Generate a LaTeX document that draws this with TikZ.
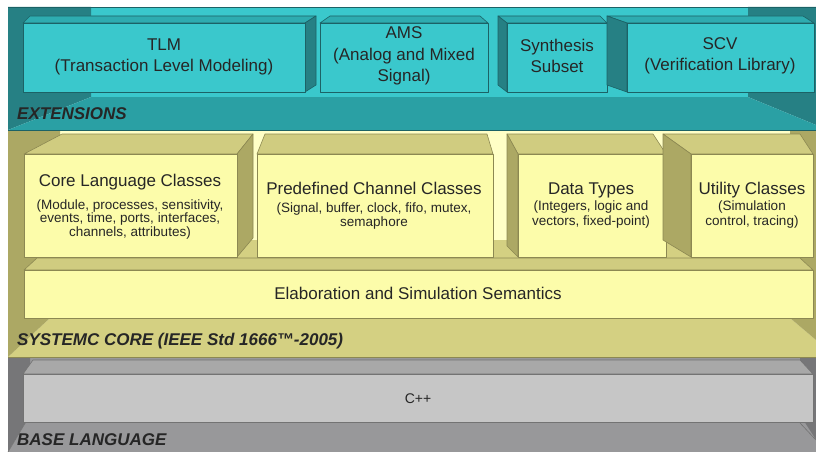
\documentclass[tikz,border=0pt]{standalone}
\usepackage{fontspec}
\setmainfont{Liberation Sans}
\usetikzlibrary{positioning}

\definecolor{tealF}{RGB}{58,200,204}
\definecolor{tealT}{RGB}{46,172,176}
\definecolor{tealS}{RGB}{38,128,132}
\definecolor{tealFl}{RGB}{42,160,164}
\definecolor{tealL}{RGB}{28,98,102}
\definecolor{yelF}{RGB}{252,252,170}
\definecolor{yelB}{RGB}{255,255,198}
\definecolor{yelT}{RGB}{208,204,128}
\definecolor{yelS}{RGB}{172,168,100}
\definecolor{yelFl}{RGB}{212,208,130}
\definecolor{yelL}{RGB}{140,136,82}
\definecolor{grayF}{RGB}{198,198,198}
\definecolor{grayT}{RGB}{168,168,168}
\definecolor{grayB}{RGB}{152,152,154}
\definecolor{grayS}{RGB}{118,118,120}
\definecolor{grayL}{RGB}{115,115,115}

\begin{document}
\begin{tikzpicture}[x=1pt, y=-1pt, line join=round,
  face/.style 2 args={fill=#1, draw=#2, line width=0.6pt},
  txt/.style={text=black!85, inner sep=0pt},
  title/.style={txt, font=\fontsize{17}{21}\selectfont, align=center},
  sub/.style={txt, font=\fontsize{13.5}{14.5}\selectfont, align=center},
  layer/.style={txt, font=\fontsize{17}{20}\selectfont\bfseries\itshape, anchor=base west}]
\useasboundingbox (0,0) rectangle (816,452);
\fill[white] (0,0) rectangle (816,452);

% Base language tray
\fill[grayB] (30,357) rectangle (800,415);
\fill[grayS] (8,357) -- (30,357) -- (30,415) -- (8,452) -- cycle;
\fill[grayS] (800,357) -- (816,357) -- (816,440) -- (800,423) -- cycle;
\fill[grayB] (8,452) -- (30,415) -- (800,415) -- (816,440) -- (816,452) -- cycle;
\draw[grayL, line width=0.6pt] (8,452) -- (30,415) (800,423) -- (816,440);

% C++ block
\filldraw[face={grayT}{grayL}] (23,374) -- (33,360) -- (800,360) -- (813,374) -- cycle;
\filldraw[face={grayF}{grayL}] (23,374) rectangle (813,422);

% SystemC core tray
\fill[yelB] (60,130) rectangle (790,240);
\fill[yelFl] (8,357) -- (50,318) -- (60,240) -- (790,240) -- (790,318) -- (816,340) -- (816,357) -- cycle;
\fill[yelS] (8,130) -- (60,130) -- (60,240) -- (50,318) -- (8,357) -- cycle;
\fill[yelS] (790,130) -- (816,130) -- (816,340) -- (790,318) -- cycle;
\draw[yelL, line width=0.6pt] (8,357) -- (816,357);

% Core boxes
\filldraw[face={yelT}{yelL}] (24,154) -- (62,134) -- (253,134) -- (237,154) -- cycle;
\filldraw[face={yelS}{yelL}] (237,154) -- (253,134) -- (253,238) -- (237,257) -- cycle;
\filldraw[face={yelF}{yelL}] (24,154) rectangle (237,257);

\filldraw[face={yelT}{yelL}] (257,154) -- (265,134) -- (487,134) -- (493,154) -- cycle;
\filldraw[face={yelF}{yelL}] (257,154) rectangle (493,257);

\filldraw[face={yelT}{yelL}] (518,154) -- (507,134) -- (653,134) -- (666,154) -- cycle;
\filldraw[face={yelS}{yelL}] (518,154) -- (507,134) -- (507,246) -- (518,257) -- cycle;
\filldraw[face={yelF}{yelL}] (518,154) rectangle (666,257);

\filldraw[face={yelT}{yelL}] (691,154) -- (663,134) -- (800,134) -- (813,154) -- cycle;
\filldraw[face={yelS}{yelL}] (691,154) -- (663,134) -- (663,240) -- (691,257) -- cycle;
\filldraw[face={yelF}{yelL}] (691,154) rectangle (813,257);

\filldraw[face={yelT}{yelL}] (24,270) -- (37,258) -- (800,258) -- (813,270) -- cycle;
\filldraw[face={yelF}{yelL}] (24,270) rectangle (813,318);

% Extensions tray
\fill[tealF] (91,7) rectangle (748,97);
\fill[tealS] (8,7) -- (91,7) -- (91,97) -- (8,130) -- cycle;
\fill[tealS] (748,7) -- (816,7) -- (816,125) -- (748,97) -- cycle;
\fill[tealFl] (8,130) -- (91,97) -- (748,97) -- (816,125) -- (816,130) -- cycle;
\draw[tealL, line width=0.6pt] (8,7) -- (816,7) (8,130) -- (816,130);

% Extension boxes
\filldraw[face={tealT}{tealL}] (23,23) -- (30,16) -- (316,16) -- (305,23) -- cycle;
\filldraw[face={tealS}{tealL}] (305,23) -- (316,16) -- (316,85) -- (305,92) -- cycle;
\filldraw[face={tealF}{tealL}] (23,23) rectangle (305,92);

\filldraw[face={tealT}{tealL}] (320,23) -- (330,16) -- (480,16) -- (488,23) -- cycle;
\filldraw[face={tealF}{tealL}] (320,23) rectangle (488,92);

\filldraw[face={tealT}{tealL}] (507,23) -- (498,16) -- (600,16) -- (607,23) -- cycle;
\filldraw[face={tealS}{tealL}] (507,23) -- (498,16) -- (498,85) -- (507,92) -- cycle;
\filldraw[face={tealF}{tealL}] (507,23) rectangle (607,92);

\filldraw[face={tealT}{tealL}] (627,23) -- (607,16) -- (803,16) -- (814,23) -- cycle;
\filldraw[face={tealS}{tealL}] (627,23) -- (607,16) -- (607,85) -- (627,92) -- cycle;
\filldraw[face={tealF}{tealL}] (627,23) rectangle (814,92);

% Labels
\node[title] (tlm) at (164,57) {TLM\\(Transaction Level Modeling)};
\node[title, font=\fontsize{17}{21.5}\selectfont] (ams) at (404,56) {AMS\\(Analog and Mixed\\Signal)};
\node[title] (synth) at (557,56) {Synthesis\\Subset};
\node[title] (scv) at (720,56) {SCV\\(Verification Library)};
\node[layer] (extlabel) at (17,119) {EXTENSIONS};

\node[title, anchor=base] (core) at (130,186) {Core Language Classes};
\node[sub, font=\fontsize{13.5}{13.5}\selectfont] (coresub) at (130,219.5)
  {(Module, processes, sensitivity,\\events, time, ports, interfaces,\\channels, attributes)};
\node[title, anchor=base] (chan) at (374,194) {Predefined Channel Classes};
\node[sub] (chansub) at (374,216) {(Signal, buffer, clock, fifo, mutex,\\semaphore};
\node[title, anchor=base] (dtypes) at (591,194) {Data Types};
\node[sub] (dtypessub) at (591,214.5) {(Integers, logic and\\vectors, fixed-point)};
\node[title, anchor=base] (util) at (752,194) {Utility Classes};
\node[sub] (utilsub) at (752,214.5) {(Simulation\\control, tracing)};
\node[title, anchor=base] (elab) at (418,299) {Elaboration and Simulation Semantics};
\node[layer] (sclabel) at (17,345.5) {SYSTEMC CORE (IEEE Std 1666™-2005)};

\node[txt, font=\fontsize{14}{16}\selectfont, anchor=base] (cpp) at (418,403) {C++};
\node[layer] (baselabel) at (17,445.5) {BASE LANGUAGE};
\end{tikzpicture}
\end{document}
